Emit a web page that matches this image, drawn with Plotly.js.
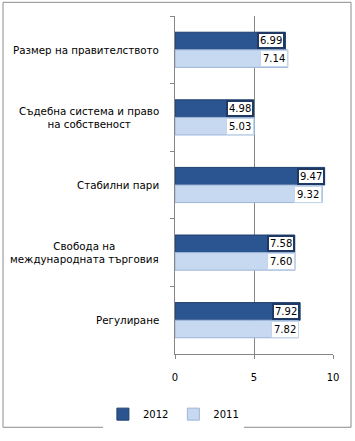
<!DOCTYPE html>
<html><head><meta charset="utf-8">
<script src="https://cdn.plot.ly/plotly-3.0.1.min.js"></script>
<style>html,body{margin:0;padding:0;background:#fff}#c{width:355px;height:441px}</style>
</head><body><div id="c"></div>
<script>
const categories = ["Размер на правителството", "Съдебна система и право на собственост", "Стабилни пари", "Свобода на международната търговия", "Регулиране"];
const categoryLabels = ["Размер на правителството", "Съдебна система и право<br>на собственост", "Стабилни пари", "Свобода на<br>международната търговия", "Регулиране"];
const values2012 = [6.99, 4.98, 9.47, 7.58, 7.92];
const values2011 = [7.14, 5.03, 9.32, 7.60, 7.82];
const seriesNames = ["2012", "2011"];
const xTicks = [0, 5, 10];

const FONT = "DejaVu Sans, Verdana, sans-serif";

const traces = [
  {type: "bar", orientation: "h", name: seriesNames[0], y: categories, x: values2012,
   marker: {color: "#2B5591", line: {color: "#1F3F6E", width: 1}}, hoverinfo: "x"},
  {type: "bar", orientation: "h", name: seriesNames[1], y: categories, x: values2011,
   marker: {color: "#C6D9F1", line: {color: "#9DB5D6", width: 1}}, hoverinfo: "x"}
];

const annotations = [];
categories.forEach((c, i) => {
  annotations.push({x: 0, xref: "paper", xanchor: "right", xshift: -14, y: c, yref: "y",
    text: categoryLabels[i], showarrow: false, align: "center",
    font: {family: FONT, size: 10.3, color: "#000"}});
  annotations.push({x: values2012[i], xref: "x", xanchor: "right", y: c, yref: "y", yshift: 9,
    text: values2012[i].toFixed(2), showarrow: false, bgcolor: "#fff",
    bordercolor: "#1F3864", borderwidth: 2, borderpad: 1,
    font: {family: FONT, size: 10, color: "#000"}});
  annotations.push({x: values2011[i], xref: "x", xanchor: "right", y: c, yref: "y", yshift: -9,
    text: values2011[i].toFixed(2), showarrow: false, bgcolor: "#fff",
    bordercolor: "#C6D6EA", borderwidth: 1, borderpad: 2,
    font: {family: FONT, size: 10, color: "#000"}});
});

const layout = {
  width: 355, height: 441,
  margin: {l: 175, r: 22, t: 16, b: 79},
  paper_bgcolor: "#fff", plot_bgcolor: "#fff",
  font: {family: FONT, size: 10, color: "#000"},
  barmode: "group", bargap: 0.48, bargroupgap: 0,
  showlegend: true,
  legend: {orientation: "h", x: -0.01, xanchor: "center", y: -0.135, yanchor: "top",
    font: {family: FONT, size: 10, color: "#000"}, itemwidth: 30, tracegroupgap: 0},
  xaxis: {range: [0, 10], tickvals: xTicks, ticktext: xTicks.map(String),
    showgrid: true, gridcolor: "#868686", gridwidth: 1,
    showline: true, linecolor: "#868686", linewidth: 1,
    ticks: "outside", ticklen: 4, tickcolor: "#868686", ticklabelstandoff: 10,
    zeroline: false, fixedrange: true,
    tickfont: {family: FONT, size: 10, color: "#000"}},
  yaxis: {type: "category", autorange: "reversed", showticklabels: false,
    showline: true, linecolor: "#868686", linewidth: 1,
    ticks: "outside", ticklen: 4, tickcolor: "#868686", tickson: "boundaries",
    showgrid: false, zeroline: false, fixedrange: true},
  annotations: annotations,
  shapes: [{type: "rect", xref: "paper", yref: "paper",
    x0: (3 - 175) / 158, x1: (351 - 175) / 158,
    y0: (362 - 437) / 346, y1: (362 - 2) / 346,
    line: {color: "#8C8C8C", width: 1}, fillcolor: "rgba(0,0,0,0)", layer: "below"}]
};

Plotly.newPlot("c", traces, layout, {displayModeBar: false, staticPlot: true});
</script></body></html>
